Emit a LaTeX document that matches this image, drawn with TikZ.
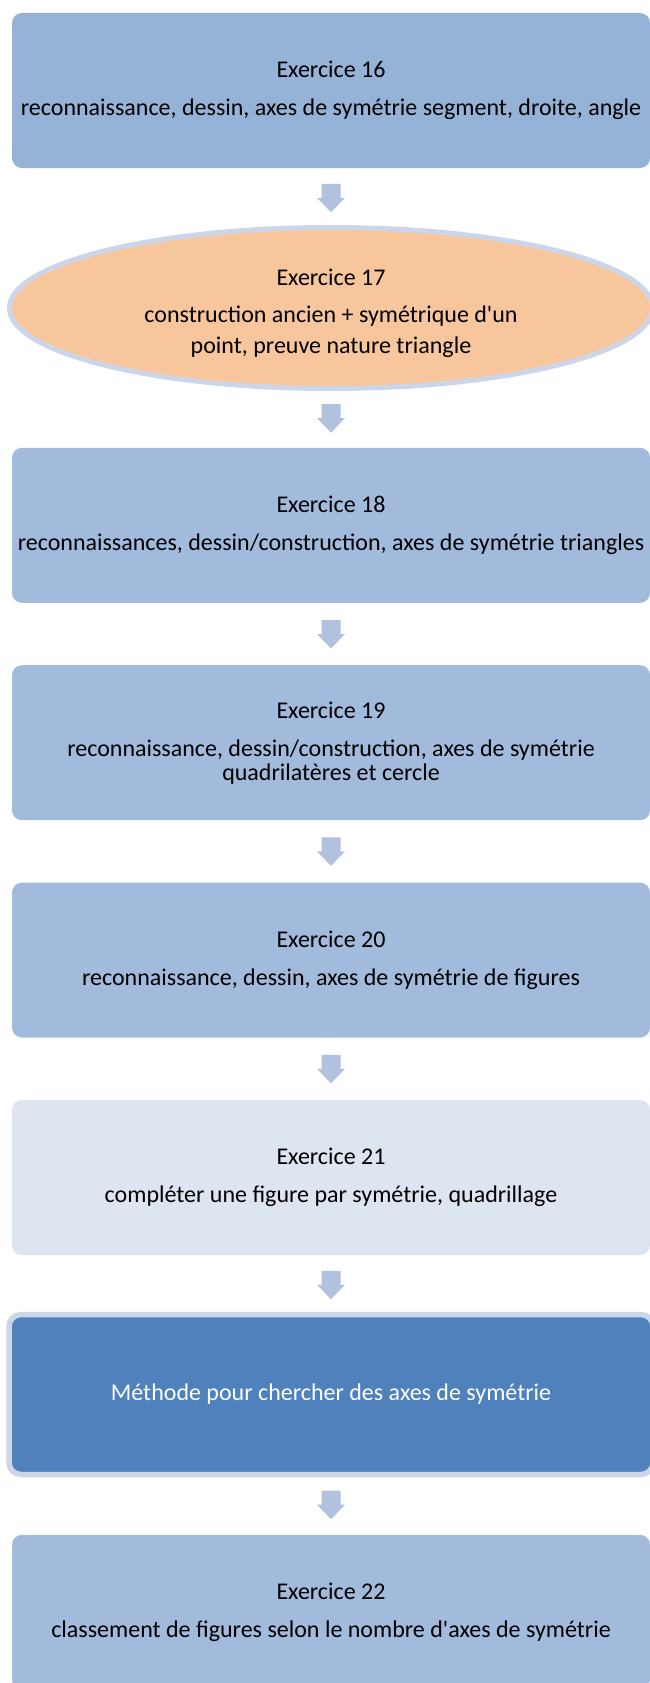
\documentclass[tikz,border=0pt]{standalone}
\usepackage{fontspec}
\setmainfont{Carlito}
\usetikzlibrary{calc,shapes.geometric}
\definecolor{boxdark}{HTML}{95B3D7}
\definecolor{boxmid}{HTML}{A2BADC}
\definecolor{boxlight}{HTML}{DDE5F1}
\definecolor{boxstrong}{HTML}{4F81BD}
\definecolor{ringc}{HTML}{CCD6E8}
\definecolor{orangec}{HTML}{F8C69C}
\definecolor{arrowc}{HTML}{B2C1DE}
\begin{document}
\begin{tikzpicture}[x=1pt,y=-1pt,
  every node/.style={font=\fontsize{24}{24}\selectfont, align=center, inner sep=0pt, outer sep=0pt},
  stepbox/.style={rectangle, rounded corners=10pt, minimum width=638pt, minimum height=155pt},
  ellbox/.style={ellipse, draw=ringc, line width=5pt, fill=orangec, minimum width=643pt, minimum height=161pt},
  ringbox/.style={rectangle, rounded corners=12pt, draw=ringc, line width=5.5pt, fill=boxstrong, text=white, minimum width=644pt, minimum height=160pt},
  blockarrow/.style={fill=arrowc}]
\useasboundingbox (0,0) rectangle (649,1683);
\fill[white] (0,0) rectangle (649,1683);

\node[stepbox, fill=boxdark] (b16) at (331,90.5)
  {Exercice 16\\[14pt]reconnaissance, dessin, axes de symétrie segment, droite, angle};
\node[ellbox] (b17) at (331,308)
  {\rule{0pt}{27pt}Exercice 17\\[13pt]construction ancien + symétrique d\textquotesingle un\\[7pt]point, preuve nature triangle};
\node[stepbox, fill=boxmid] (b18) at (331,525.3)
  {Exercice 18\\[14pt]reconnaissances, dessin/construction, axes de symétrie triangles};
\node[stepbox, fill=boxmid] (b19) at (331,742.7)
  {Exercice 19\\[14pt]reconnaissance, dessin/construction, axes de symétrie\\quadrilatères et cercle};
\node[stepbox, fill=boxmid] (b20) at (331,960.1)
  {Exercice 20\\[14pt]reconnaissance, dessin, axes de symétrie de figures};
\node[stepbox, fill=boxlight] (b21) at (331,1177.5)
  {Exercice 21\\[14pt]compléter une figure par symétrie, quadrillage};
\node[ringbox] (bm) at (331,1394.5)
  {Méthode pour chercher des axes de symétrie};
\node[stepbox, fill=boxmid] (b22) at (331,1612.3)
  {Exercice 22\\[14pt]classement de figures selon le nombre d\textquotesingle axes de symétrie};

\foreach \a/\b in {b16/b17, b17/b18, b18/b19, b19/b20, b20/b21, b21/bm, bm/b22} {
  \begin{scope}[shift={($(\a.south)!0.5!(\b.north)$)}]
    \fill[blockarrow] (-9.5,-14) -- (9.5,-14) -- (9.5,0) -- (14,0) -- (0,14.5) -- (-14,0) -- (-9.5,0) -- cycle;
  \end{scope}
}
\end{tikzpicture}
\end{document}
